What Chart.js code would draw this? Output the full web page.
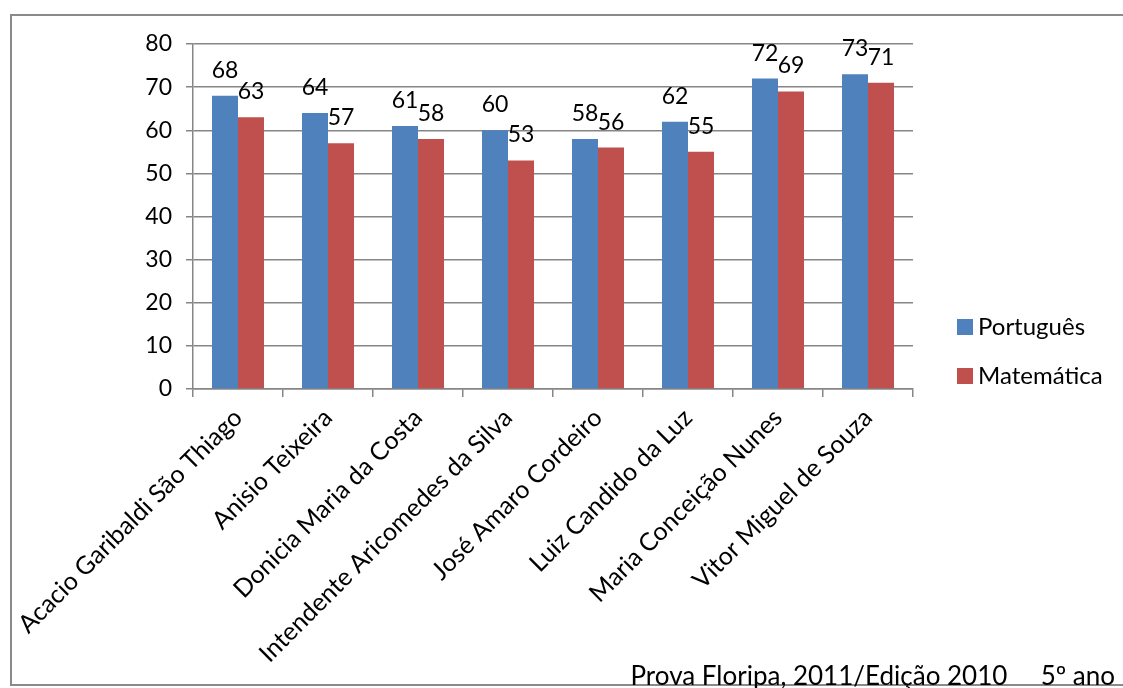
<!DOCTYPE html>
<html>
<head>
<meta charset="utf-8">
<title>Prova Floripa</title>
<script src="https://cdn.jsdelivr.net/npm/chart.js@4"></script>
<style>
  html, body { margin: 0; padding: 0; background: #fff; }
  #wrap { position: relative; width: 1123px; height: 688px; overflow: hidden; }
  #frame { position: absolute; left: 10px; top: 14px; width: 1130px; height: 672px; border: 2px solid #8a8a8a; box-sizing: border-box; }
  #chart { position: absolute; left: 0; top: 0; }
</style>
</head>
<body>
<div id="wrap">
  <div id="frame"></div>
  <canvas id="chart" width="1123" height="688"></canvas>
</div>
<script>
const escolas = [
  'Acacio Garibaldi São Thiago',
  'Anisio Teixeira',
  'Donicia Maria da Costa',
  'Intendente Aricomedes da Silva',
  'José Amaro Cordeiro',
  'Luiz Candido da Luz',
  'Maria Conceição Nunes',
  'Vitor Miguel de Souza'
];
const portugues = [68, 64, 61, 60, 58, 62, 72, 73];
const matematica = [63, 57, 58, 53, 56, 55, 69, 71];
const yTicks = [0, 10, 20, 30, 40, 50, 60, 70, 80];
const rodape = 'Prova Floripa, 2011/Edição 2010     5º ano';

const fonte = 'Lato, "Open Sans", sans-serif';
const cinza = '#868686';

// rotulos de valor acima das barras
const rotulos = {
  id: 'rotulos',
  afterDatasetsDraw(chart) {
    const ctx = chart.ctx;
    ctx.save();
    ctx.font = '23px ' + fonte;
    ctx.fillStyle = '#000';
    ctx.textAlign = 'center';
    ctx.textBaseline = 'alphabetic';
    chart.data.datasets.forEach((ds, i) => {
      chart.getDatasetMeta(i).data.forEach((bar, j) => {
        ctx.fillText(ds.data[j], bar.x, bar.y - 18);
      });
    });
    ctx.restore();
  }
};

// legenda e rodape
const extras = {
  id: 'extras',
  afterDraw(chart) {
    const ctx = chart.ctx;
    ctx.save();
    ctx.font = '24px ' + fonte;
    ctx.textBaseline = 'middle';
    ctx.textAlign = 'left';
    const ys = [327, 376];
    chart.data.datasets.forEach((ds, i) => {
      ctx.fillStyle = ds.backgroundColor;
      ctx.fillRect(957, ys[i] - 8, 16, 16);
      ctx.fillStyle = '#000';
      ctx.fillText(ds.label, 978, ys[i]);
    });
    ctx.font = '26px ' + fonte;
    ctx.textAlign = 'right';
    ctx.textBaseline = 'alphabetic';
    ctx.fillText(rodape, 1115, 685);
    ctx.restore();
  }
};

new Chart(document.getElementById('chart'), {
  type: 'bar',
  data: {
    labels: escolas,
    datasets: [
      { label: 'Português', data: portugues, backgroundColor: '#4F81BD' },
      { label: 'Matemática', data: matematica, backgroundColor: '#C0504D' }
    ]
  },
  options: {
    responsive: false,
    animation: false,
    events: [],
    datasets: { bar: { categoryPercentage: 0.578, barPercentage: 1.0 } },
    layout: { padding: { top: 44, left: 0, right: 210, bottom: 0 } },
    plugins: {
      legend: { display: false },
      tooltip: { enabled: false }
    },
    scales: {
      x: {
        afterFit(scale) { scale.height = 299; },
        border: { color: cinza, width: 1.5 },
        grid: { drawOnChartArea: false, drawTicks: true, tickLength: 8, color: cinza, lineWidth: 1.5, offset: true },
        ticks: { color: '#000', font: { family: fonte, size: 25 }, minRotation: 45, maxRotation: 45, autoSkip: false, padding: 6 }
      },
      y: {
        min: 0,
        max: 80,
        afterFit(scale) { scale.width = 193; },
        afterBuildTicks(scale) { scale.ticks = yTicks.map(v => ({ value: v })); },
        border: { color: cinza, width: 1.5 },
        grid: { color: cinza, lineWidth: 1.5, drawTicks: true, tickLength: 7 },
        ticks: { color: '#000', font: { family: fonte, size: 23 }, padding: 14 }
      }
    }
  },
  plugins: [rotulos, extras]
});
</script>
</body>
</html>
